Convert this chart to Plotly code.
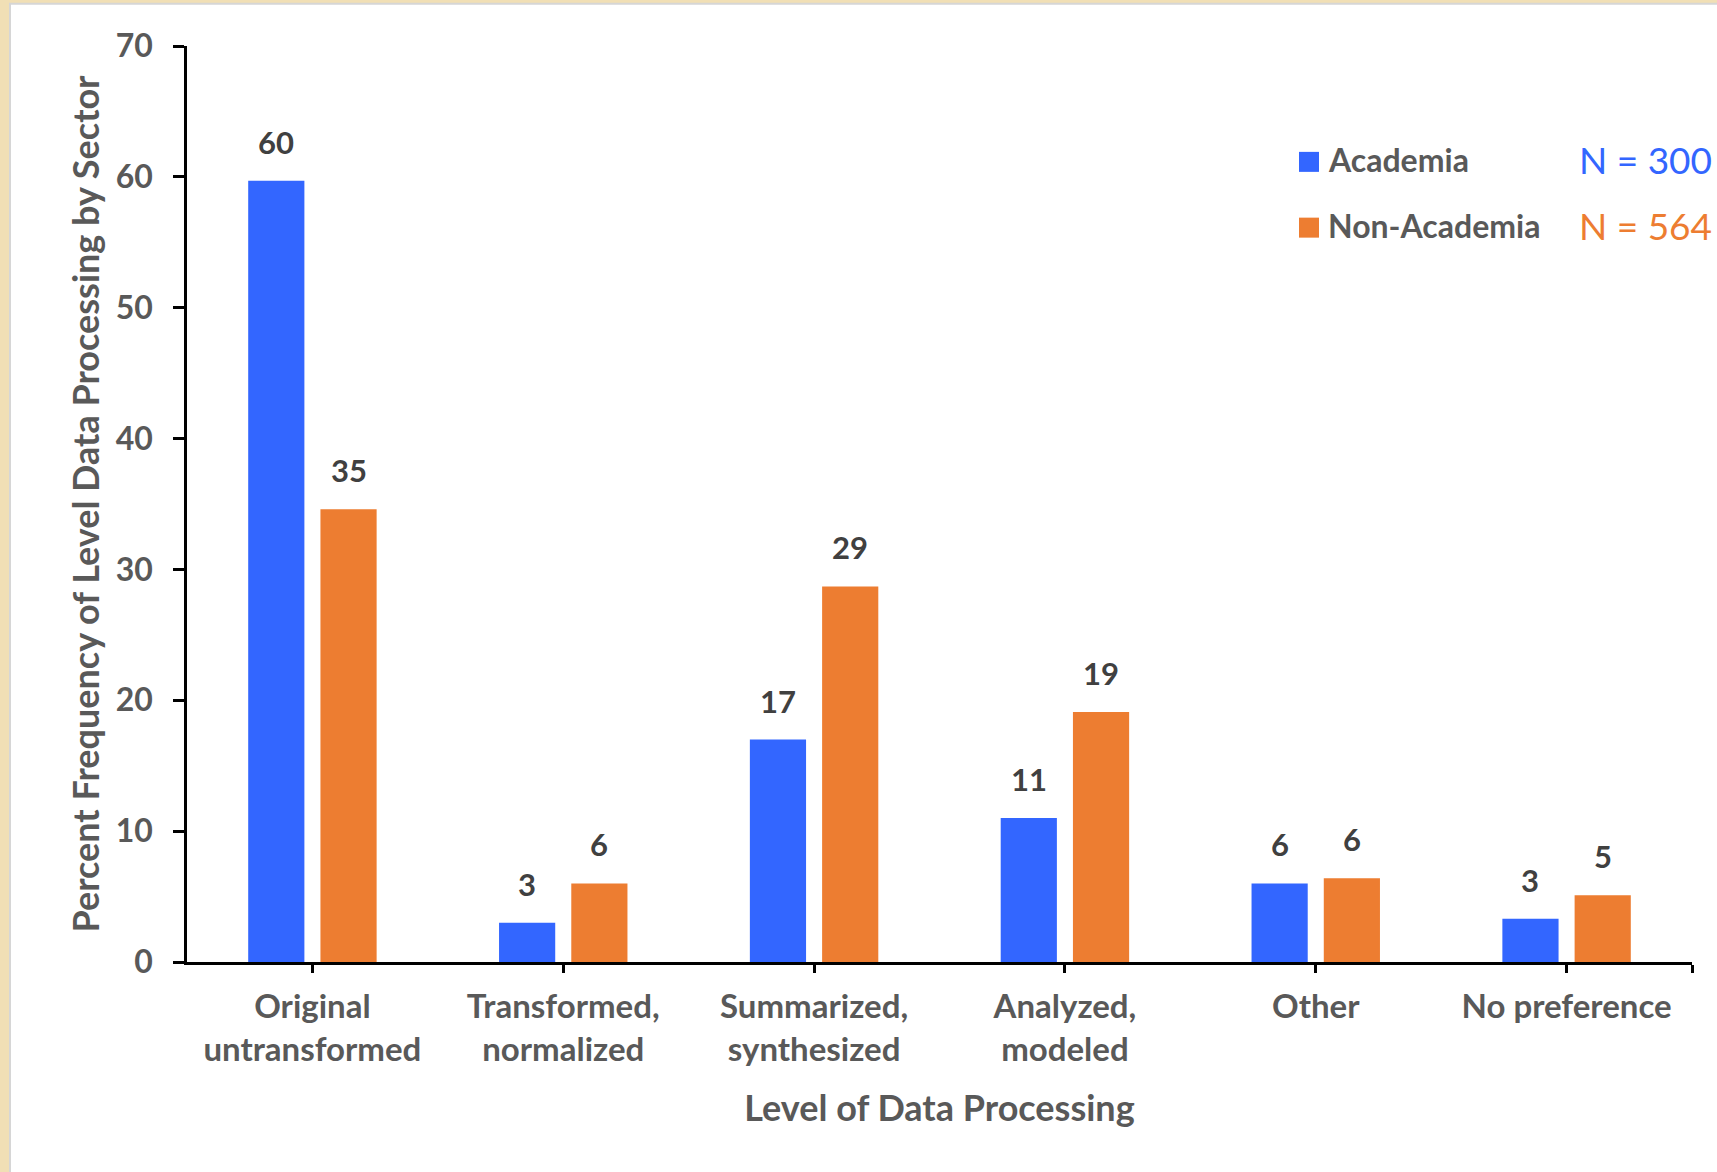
import plotly.graph_objects as go

# ---- data ----
categories = ["Original<br>untransformed", "Transformed,<br>normalized", "Summarized,<br>synthesized",
              "Analyzed,<br>modeled", "Other", "No preference"]
academia = [59.7, 3.0, 17.0, 11.0, 6.0, 3.3]
non_academia = [34.6, 6.0, 28.7, 19.1, 6.4, 5.1]
series_names = ["Academia", "Non-Academia"]
sample_sizes = ["N = 300", "N = 564"]
y_ticks = [0, 10, 20, 30, 40, 50, 60, 70]

# ---- style ----
BLUE = "#3366FF"
ORANGE = "#ED7D31"
TICK_GREY = "#595959"
LABEL_GREY = "#404040"
FONT = "Lato, 'Open Sans', sans-serif"
WEIGHT = "bold"
BAR_W = 0.224
OFFSETS = [-0.256, 0.032]

positions = list(range(len(categories)))
fig = go.Figure()

for name, vals, color, off in [(series_names[0], academia, BLUE, OFFSETS[0]),
                               (series_names[1], non_academia, ORANGE, OFFSETS[1])]:
    fig.add_trace(go.Bar(x=positions, y=vals, width=BAR_W, offset=off, name=name,
                         marker=dict(color=color, line=dict(width=0)), showlegend=False))
    for p, v in zip(positions, vals):
        fig.add_annotation(x=p + off + BAR_W / 2, y=v, xref="x", yref="y", text=f"{v:.0f}",
                           showarrow=False, yanchor="bottom", yshift=18,
                           font=dict(family=FONT, size=31, color=LABEL_GREY, weight=WEIGHT))

# legend (squares, names, sample sizes)
LEG_X_SQ = 0.7455
LEG_X_TXT = 0.7565
LEG_X_N = 0.9233
LEG_Y = [0.8735, 0.8017]
for name, txt, color, yp in zip(series_names, sample_sizes, [BLUE, ORANGE], LEG_Y):
    fig.add_shape(type="rect", xref="paper", yref="paper", xsizemode="pixel", ysizemode="pixel",
                  xanchor=LEG_X_SQ, yanchor=yp, x0=-10, x1=10, y0=-10, y1=10,
                  fillcolor=color, line=dict(width=0))
    fig.add_annotation(x=LEG_X_TXT, y=yp, xref="paper", yref="paper", text=name, showarrow=False,
                       xanchor="left", yanchor="middle", yshift=2,
                       font=dict(family=FONT, size=32, color=TICK_GREY, weight=WEIGHT))
    fig.add_annotation(x=LEG_X_N, y=yp, xref="paper", yref="paper", text=txt, showarrow=False,
                       xanchor="left", yanchor="middle", yshift=2,
                       font=dict(family=FONT, size=37, color=color))

# background: parchment border and white card
fig.add_shape(type="rect", xref="paper", yref="paper", x0=-0.1176, x1=1.03, y0=-0.25, y1=1.046,
              fillcolor="white", line=dict(color="#D6D6D6", width=2), layer="below")

fig.update_layout(
    width=1717, height=1172,
    margin=dict(l=187, r=25, t=46, b=210),
    paper_bgcolor="#F1DFB5",
    plot_bgcolor="white",
    showlegend=False,
    font=dict(family=FONT, color=TICK_GREY),
    xaxis=dict(range=[-0.5, len(categories) - 0.5], tickvals=positions + [len(categories) - 0.5],
               ticktext=categories + [""], showgrid=False, zeroline=False,
               showline=True, linecolor="black", linewidth=3,
               ticks="outside", ticklen=8, tickwidth=2.5, tickcolor="black",
               tickfont=dict(family=FONT, size=33, color=TICK_GREY, weight=WEIGHT),
               ticklabelstandoff=5,
               title=dict(text="Level of Data Processing", standoff=30,
                          font=dict(family=FONT, size=36, color=TICK_GREY, weight=WEIGHT))),
    yaxis=dict(range=[0, 70], tickvals=y_ticks, showgrid=False, zeroline=False,
               showline=True, linecolor="black", linewidth=2.5,
               ticks="outside", ticklen=11, tickwidth=2.5, tickcolor="black",
               tickfont=dict(family=FONT, size=32, color=TICK_GREY, weight=WEIGHT),
               ticklabelstandoff=14,
               title=dict(text="Percent Frequency of Level Data Processing by Sector", standoff=6,
                          font=dict(family=FONT, size=36, color=TICK_GREY, weight=WEIGHT))),
)

fig.write_html("out.html")
